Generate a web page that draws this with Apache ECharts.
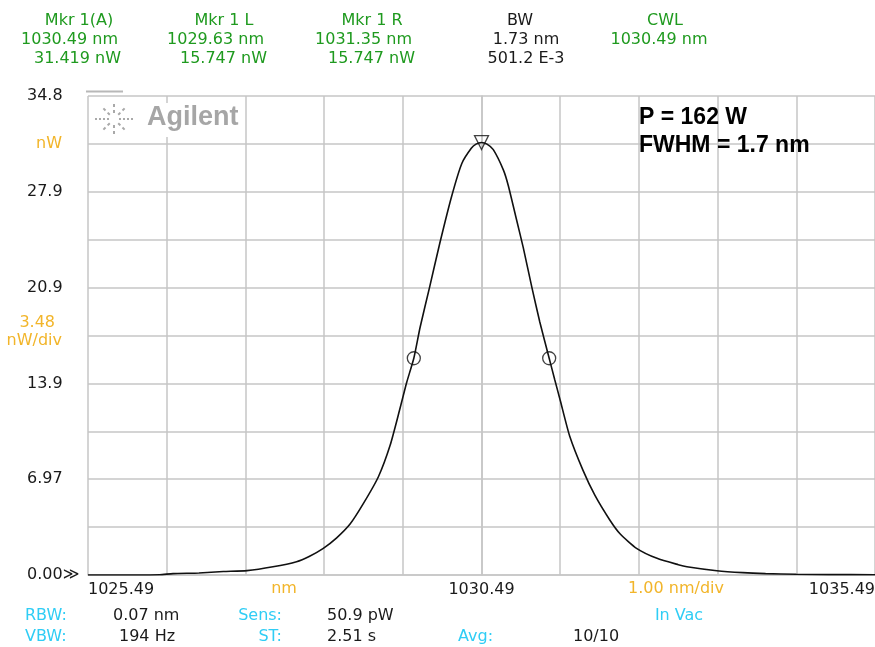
<!DOCTYPE html>
<html>
<head>
<meta charset="utf-8">
<script src="https://cdn.jsdelivr.net/npm/echarts@6/dist/echarts.min.js"></script>
<style>
  html, body { margin: 0; padding: 0; background: #fff; }
  #chart { width: 875px; height: 647px; }
</style>
</head>
<body>
<div id="chart"></div>
<script>
// Centre wavelength (CWL) of the sweep, nm; the x axis spans +-5 nm around it.
const CWL = 1030.49;
const SPAN_HALF = 5;
const NW_PER_DIV = 3.48;

// Measured optical spectrum: wavelength (nm) and power (nW).
const wavelengthNm = [
  1025.49, 1025.80, 1026.10, 1026.40, 1026.57, 1026.90, 1027.21, 1027.51, 1027.84, 1028.14,
  1028.30, 1028.48, 1028.65, 1028.82, 1028.99, 1029.18, 1029.33, 1029.45, 1029.54, 1029.63,
  1029.71, 1029.83, 1029.96, 1030.11, 1030.24, 1030.36, 1030.42, 1030.49, 1030.56, 1030.64,
  1030.77, 1030.83, 1030.94, 1031.02, 1031.13, 1031.23, 1031.35, 1031.42, 1031.49, 1031.61,
  1031.78, 1031.93, 1032.12, 1032.25, 1032.46, 1032.72, 1032.99, 1033.10, 1033.48, 1033.81,
  1034.10, 1034.49, 1034.90, 1035.49
];
const powerNw = [
  0.00, 0.00, 0.00, 0.02, 0.10, 0.15, 0.25, 0.32, 0.60, 0.97,
  1.35, 1.94, 2.70, 3.70, 5.20, 7.14, 9.44, 12.0, 14.0, 15.747,
  18.0, 20.9, 24.1, 27.5, 29.9, 31.0, 31.3, 31.419, 31.3, 30.9,
  29.4, 28.3, 25.7, 23.8, 20.9, 18.4, 15.747, 14.2, 12.7, 10.1,
  7.6, 5.8, 4.0, 3.0, 1.94, 1.21, 0.75, 0.60, 0.31, 0.17,
  0.10, 0.05, 0.03, 0.02
];

// Markers: peak (A) and the two half-maximum points.
const markerNames = ['Mkr 1(A)', 'Mkr 1 L', 'Mkr 1 R'];
const markerWl = [1030.49, 1029.63, 1031.35];
const markerPw = [31.419, 15.747, 15.747];

// Axis tick labels (one per division; blanks are unlabelled divisions).
const xTickLabels = ['1025.49', '', '', '', '', '1030.49', '', '', '', '', '1035.49'];
const yTickLabels = ['0.00\u226B', '', '6.97', '', '13.9', '', '20.9', '', '27.9', '', '34.8'];

// Instrument read-outs.
const bwLines = ['BW', '1.73 nm', '501.2 E-3'];
const cwlLines = ['CWL', CWL.toFixed(2) + ' nm'];
const settingsRow1 = [['RBW:', '0.07 nm'], ['Sens:', '50.9 pW']];
const settingsRow2 = [['VBW:', '194 Hz'], ['ST:', '2.51 s'], ['Avg:', '10/10']];
const notes = ['P = 162 W', 'FWHM = 1.7 nm'];

const GREEN = '#1f9a1f';
const ORANGE = '#f2b52a';
const CYAN = '#2fcdf5';
const INK = '#1a1a1a';
const GRID = '#c6c6c6';
const FONT = 'DejaVu Sans, sans-serif';
const FS = 16;

const chart = echarts.init(document.getElementById('chart'), null, { renderer: 'canvas' });

const traceData = wavelengthNm.map((w, i) => [w - CWL, powerNw[i]]);
const markerData = markerWl.map((w, i) => ({
  value: [w - CWL, markerPw[i]],
  symbol: i === 0 ? 'triangle' : 'circle',
  symbolRotate: i === 0 ? 180 : 0,
  symbolSize: i === 0 ? 14 : 13
}));

function txt(x, y, text, color, align) {
  return {
    type: 'text', x: x, y: y, z: 100,
    style: {
      text: text, fill: color, font: FS + 'px ' + FONT,
      align: align || 'left', verticalAlign: 'middle'
    }
  };
}

const graphics = [];

// Header marker read-outs
const headerCols = [79, 224, 372];
const headerRight = [121, 267, 415];
markerNames.forEach((name, i) => {
  graphics.push(txt(headerCols[i], 21, name, GREEN, 'center'));
  graphics.push(txt(headerRight[i] - 3, 40, markerWl[i].toFixed(2) + ' nm', GREEN, 'right'));
  graphics.push(txt(headerRight[i], 59, markerPw[i].toFixed(3) + ' nW', GREEN, 'right'));
});
graphics.push(txt(520, 21, bwLines[0], INK, 'center'));
graphics.push(txt(526, 40, bwLines[1], INK, 'center'));
graphics.push(txt(526, 59, bwLines[2], INK, 'center'));
graphics.push(txt(665, 21, cwlLines[0], GREEN, 'center'));
graphics.push(txt(659, 40, cwlLines[1], GREEN, 'center'));

// Y-axis unit texts
graphics.push(txt(62, 144, 'nW', ORANGE, 'right'));
graphics.push(txt(55, 323, NW_PER_DIV.toFixed(2), ORANGE, 'right'));
graphics.push(txt(62, 341, 'nW/div', ORANGE, 'right'));

// X-axis unit texts
graphics.push(txt(284, 589, 'nm', ORANGE, 'center'));
graphics.push(txt(676, 589, '1.00 nm/div', ORANGE, 'center'));

// Settings rows
graphics.push(txt(25, 616, settingsRow1[0][0], CYAN, 'left'));
graphics.push(txt(113, 616, settingsRow1[0][1], INK, 'left'));
graphics.push(txt(282, 616, settingsRow1[1][0], CYAN, 'right'));
graphics.push(txt(327, 616, settingsRow1[1][1], INK, 'left'));
graphics.push(txt(679, 616, 'In Vac', CYAN, 'center'));
graphics.push(txt(25, 637, settingsRow2[0][0], CYAN, 'left'));
graphics.push(txt(119, 637, settingsRow2[0][1], INK, 'left'));
graphics.push(txt(282, 637, settingsRow2[1][0], CYAN, 'right'));
graphics.push(txt(327, 637, settingsRow2[1][1], INK, 'left'));
graphics.push(txt(458, 637, settingsRow2[2][0], CYAN, 'left'));
graphics.push(txt(573, 637, settingsRow2[2][1], INK, 'left'));

// Annotation
const noteFont = 'bold 23px "Liberation Sans", Arial, sans-serif';
graphics.push({ type: 'text', x: 639, y: 118, z: 100,
  style: { text: notes[0], fill: '#000', font: noteFont, align: 'left', verticalAlign: 'middle' } });
graphics.push({ type: 'text', x: 639, y: 146, z: 100,
  style: { text: notes[1], fill: '#000', font: noteFont, align: 'left', verticalAlign: 'middle' } });

// Logo panel over the top-left grid cell
graphics.push({ type: 'rect', z: 50, shape: { x: 90, y: 103, width: 153, height: 34 }, style: { fill: '#fff' } });
graphics.push({ type: 'line', z: 50, shape: { x1: 86, y1: 91.5, x2: 123, y2: 91.5 }, style: { stroke: '#b8b8b8', lineWidth: 2 } });
const logoCx = 114, logoCy = 119;
for (let k = 0; k < 8; k++) {
  const a = k * Math.PI / 4;
  const horiz = (k % 4 === 0);
  const r0 = horiz ? 5 : 6, r1 = horiz ? 21 : (k % 2 ? 15 : 16);
  graphics.push({
    type: 'line', z: 60,
    shape: { x1: logoCx + r0 * Math.cos(a), y1: logoCy + r0 * Math.sin(a), x2: logoCx + r1 * Math.cos(a), y2: logoCy + r1 * Math.sin(a) },
    style: { stroke: '#a9a9a9', lineWidth: 2, lineDash: horiz ? [2, 2] : [3, 3] }
  });
}
graphics.push({ type: 'text', x: 147, y: 118, z: 60,
  style: { text: 'Agilent', fill: '#a6a6a6', font: 'bold 27px "Liberation Sans", Arial, sans-serif', align: 'left', verticalAlign: 'middle' } });

const option = {
  backgroundColor: '#fff',
  animation: false,
  grid: { left: 88, top: 96, right: 0, bottom: 72, containLabel: false, outerBoundsMode: 'none' },
  xAxis: {
    type: 'value',
    min: -SPAN_HALF, max: SPAN_HALF, interval: 1,
    axisLine: { show: true, lineStyle: { color: GRID, width: 1.5 } },
    axisTick: { show: false },
    splitLine: { show: true, lineStyle: { color: GRID, width: 1.5 } },
    axisLabel: {
      show: true, margin: 7, color: INK, fontFamily: FONT, fontSize: FS,
      showMinLabel: true, showMaxLabel: true,
      alignMinLabel: 'left', alignMaxLabel: 'right',
      formatter: v => xTickLabels[Math.round(v + SPAN_HALF)] || ''
    }
  },
  yAxis: {
    type: 'value',
    min: 0, max: NW_PER_DIV * 10, interval: NW_PER_DIV,
    axisLine: { show: true, lineStyle: { color: GRID, width: 1.5 } },
    axisTick: { show: false },
    splitLine: { show: true, lineStyle: { color: GRID, width: 1.5 } },
    axisLabel: {
      show: true, margin: 61, align: 'left', color: INK, fontFamily: FONT, fontSize: FS,
      showMinLabel: true, showMaxLabel: true,
      formatter: v => yTickLabels[Math.round(v / NW_PER_DIV)] || ''
    }
  },
  series: [
    {
      type: 'line',
      data: traceData,
      showSymbol: false,
      smooth: 0.2,
      lineStyle: { color: '#111', width: 1.6 },
      z: 5
    },
    {
      type: 'scatter',
      data: markerData,
      itemStyle: { color: 'rgba(255,255,255,0)', borderColor: '#111', borderWidth: 1.3 },
      z: 6
    }
  ],
  graphic: graphics
};

chart.setOption(option);
</script>
</body>
</html>
